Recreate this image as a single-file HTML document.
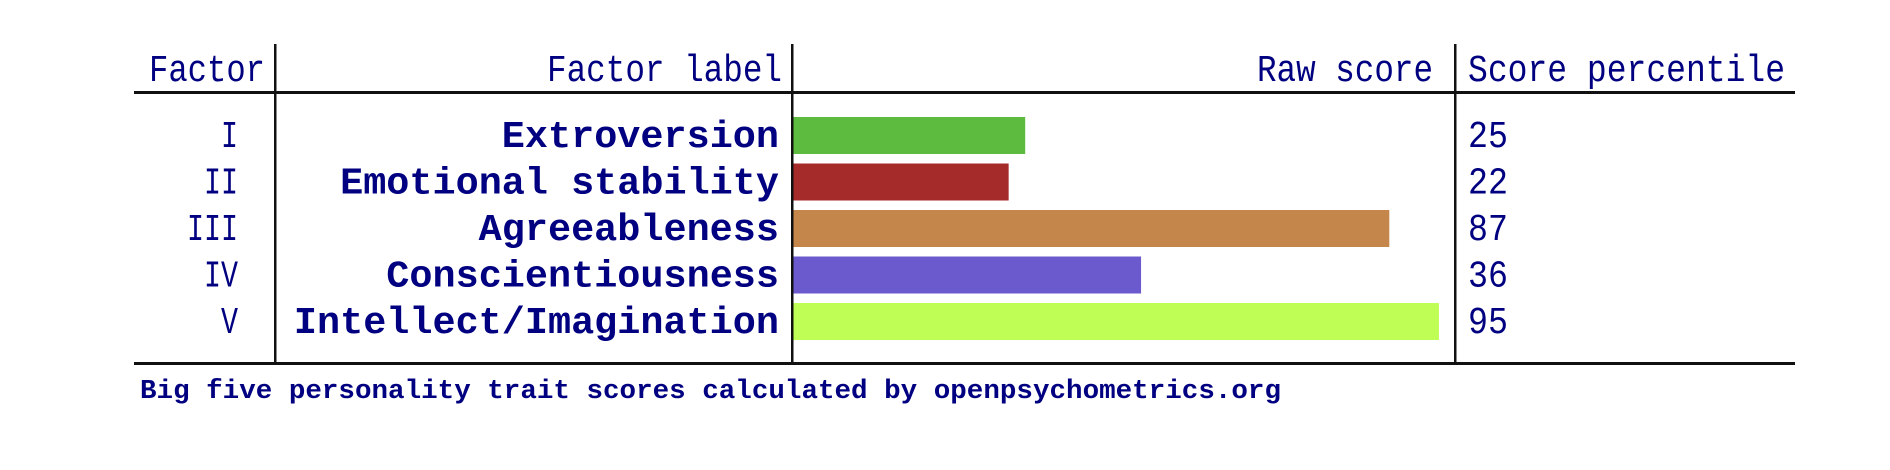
<!DOCTYPE html>
<html><head><meta charset="utf-8"><style>
html,body{margin:0;padding:0;background:#fff;width:1890px;height:470px;overflow:hidden}
svg text{font-family:"Liberation Mono",monospace;fill:#000080}
</style></head><body>
<svg width="1890" height="470" viewBox="0 0 1890 470">
<g id="grid">
<rect x="134" y="91" width="1661" height="3" fill="#111"/>
<rect x="134" y="362" width="1661" height="3" fill="#111"/>
<rect x="274" y="44" width="2.5" height="321" fill="#111"/>
<rect x="791" y="44" width="2.5" height="321" fill="#111"/>
<rect x="1454" y="44" width="2.5" height="321" fill="#111"/>
</g>
<text x="149" y="81" font-size="38" textLength="116" lengthAdjust="spacingAndGlyphs">Factor</text>
<text x="782" y="81" font-size="38" text-anchor="end" textLength="235" lengthAdjust="spacingAndGlyphs">Factor label</text>
<text x="1433" y="81" font-size="38" text-anchor="end" textLength="176" lengthAdjust="spacingAndGlyphs">Raw score</text>
<text x="1468" y="81" font-size="38" textLength="317" lengthAdjust="spacingAndGlyphs">Score percentile</text>
<g id="rows"></g>
<text x="140" y="398" font-size="27" font-weight="bold" textLength="1141" lengthAdjust="spacingAndGlyphs">Big five personality trait scores calculated by openpsychometrics.org</text>
</svg>
<script>
const factors = ["I","II","III","IV","V"];
const labels = ["Extroversion","Emotional stability","Agreeableness","Conscientiousness","Intellect/Imagination"];
const rawScores = [14,13,36,21,39];
const percentiles = [25,22,87,36,95];
const rawMax = 40;
const colors = ["#5dbb3f","#a52a2a","#c4864b","#6a5acd","#bfff55"];
const NS="http://www.w3.org/2000/svg";
const g=document.getElementById('rows');
const x0=793.5, xW=662;
function xScale(v){return v/rawMax*xW;}
function rowY(i){return 117+i*46.5;}
function mk(tag,attrs,txt){const e=document.createElementNS(NS,tag);for(const k in attrs)e.setAttribute(k,attrs[k]);if(txt!==undefined)e.textContent=txt;g.appendChild(e);return e;}
labels.forEach((lab,i)=>{
  const y=rowY(i);
  const bar=mk('rect',{x:x0,y:y,width:xScale(rawScores[i]),height:37,fill:colors[i]});
  
  
  const f=mk('text',{x:238,y:y+30,'font-size':38,'text-anchor':'end',textLength:factors[i].length*17,lengthAdjust:'spacingAndGlyphs'},factors[i]);
  
  
  const l=mk('text',{x:779,y:y+30,'font-size':38,'font-weight':'bold','text-anchor':'end',textLength:lab.length*23.1,lengthAdjust:'spacingAndGlyphs'},lab);
  
  
  const p=mk('text',{x:1468,y:y+30,'font-size':38,textLength:String(percentiles[i]).length*20,lengthAdjust:'spacingAndGlyphs'},String(percentiles[i]));
  
  
});
</script>
</body></html>
